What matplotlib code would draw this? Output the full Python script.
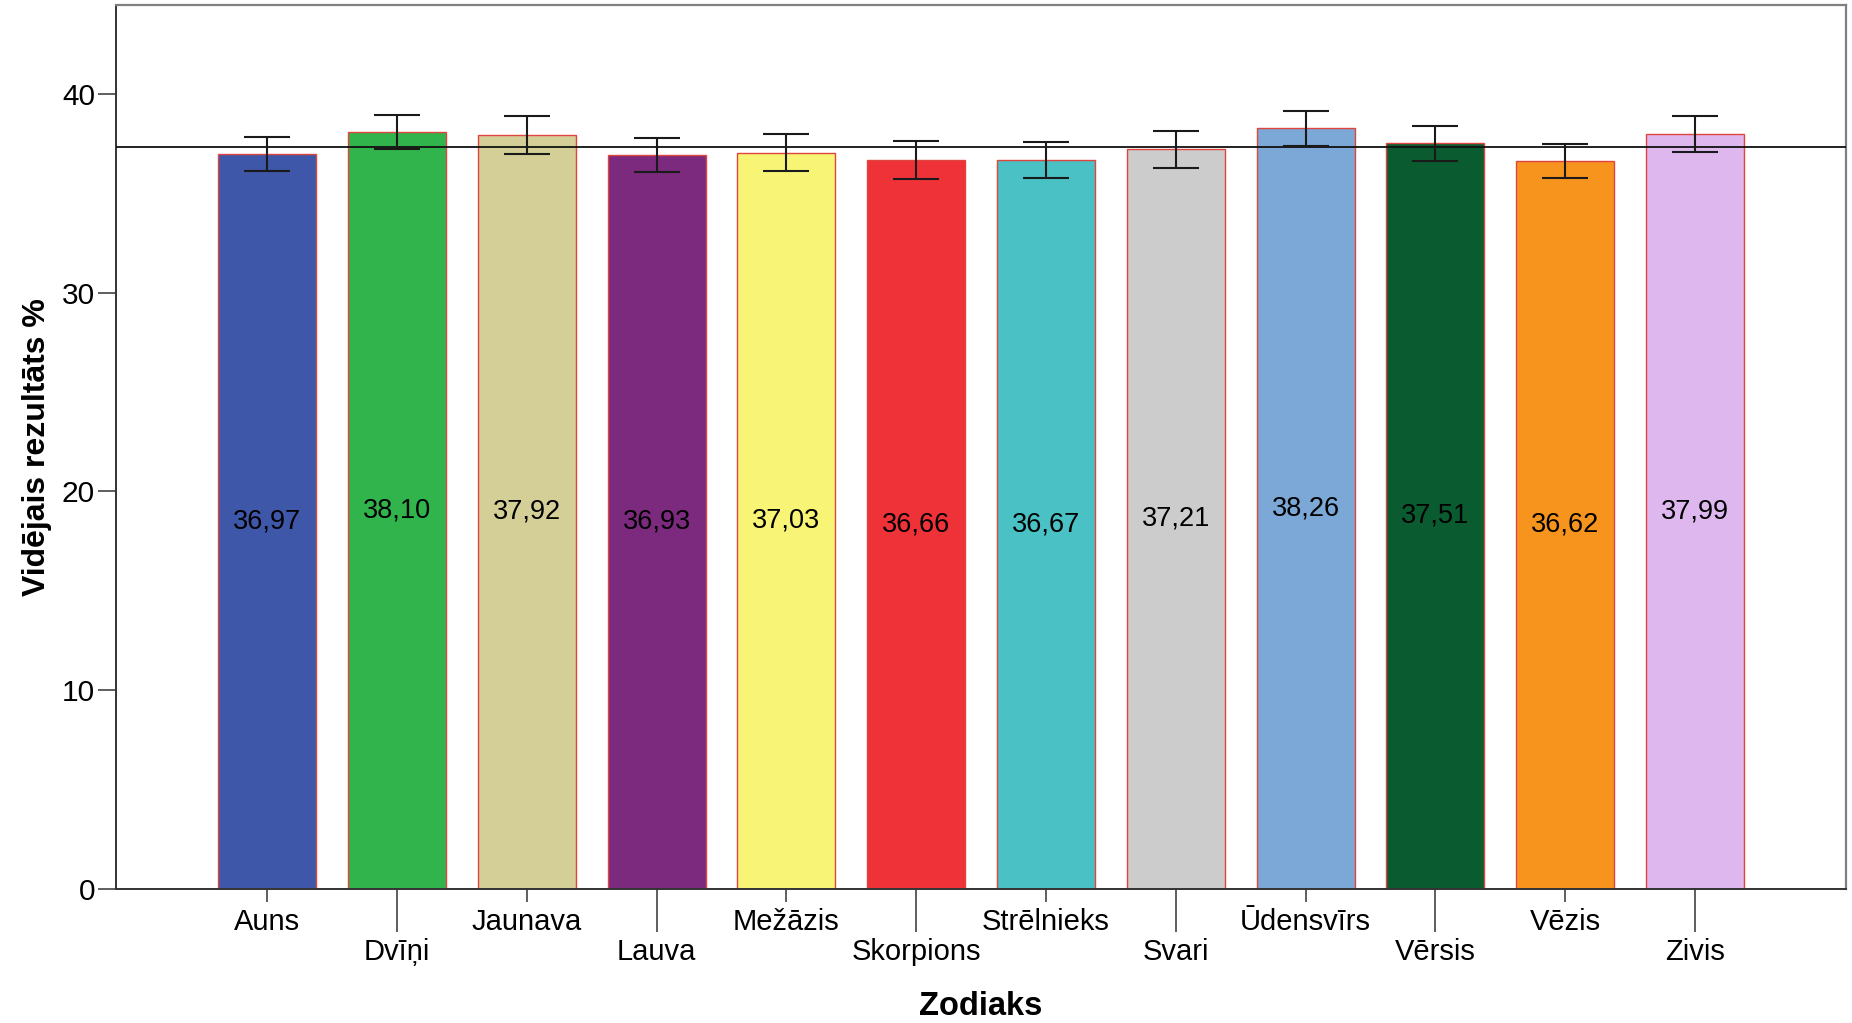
import matplotlib
matplotlib.use('Agg')
import matplotlib.pyplot as plt
import numpy as np

plt.rcParams['font.family'] = ['Liberation Sans', 'DejaVu Sans']

# Mean test score (%) by zodiac sign, with error bar half-widths
signs = ['Auns', 'Dvīņi', 'Jaunava', 'Lauva', 'Mežāzis', 'Skorpions',
         'Strēlnieks', 'Svari', 'Ūdensvīrs', 'Vērsis', 'Vēzis', 'Zivis']
means = [36.97, 38.10, 37.92, 36.93, 37.03, 36.66,
         36.67, 37.21, 38.26, 37.51, 36.62, 37.99]
errors = [0.86, 0.86, 0.94, 0.87, 0.93, 0.95,
          0.93, 0.93, 0.88, 0.87, 0.88, 0.90]
colors = ['#3F57A8', '#31B44B', '#D4CF96', '#7B2A7D', '#F8F576', '#EE3238',
          '#4AC2C5', '#CCCCCC', '#7BA8D6', '#0A5B2F', '#F7941D', '#DDB7EE']
overall_mean = 37.32
y_ticks = [0, 10, 20, 30, 40]

fig = plt.figure(figsize=(18.52, 10.23), dpi=100)
ax = fig.add_axes([0.0625, 0.1313, 0.9343, 0.8638])

x = np.arange(len(signs))
ax.bar(x, means, width=0.755, color=colors, edgecolor='#E0443F', linewidth=1.0,
       zorder=2)
ax.errorbar(x, means, yerr=errors, fmt='none', ecolor='#1a1a1a',
            elinewidth=1.5, capsize=16.5, capthick=1.5, zorder=4)
ax.axhline(overall_mean, color='#111111', linewidth=1.3, zorder=3)

# value labels at mid-height of each bar
for xi, v in zip(x, means):
    ax.text(xi, v / 2, f'{v:.2f}'.replace('.', ','), ha='center', va='center',
            fontsize=19.5, color='black', zorder=5)

ax.set_xlim(-1.166, 12.163)
ax.set_ylim(0, 44.47)

# alternating tick labels: even ones short ticks, odd ones long ticks
ax.set_xticks(x[::2], [signs[i] for i in x[::2]])
ax.set_xticks(x[1::2], [signs[i] for i in x[1::2]], minor=True)
ax.tick_params(axis='x', which='major', length=9.5, width=1.1, color='#333333',
               labelsize=21, pad=4.5)
ax.tick_params(axis='x', which='minor', length=31, width=1.1, color='#333333',
               labelsize=21, pad=4.5)
ax.set_yticks(y_ticks)
ax.tick_params(axis='y', length=13, width=1.1, color='#333333', labelsize=21.5,
               pad=2)

for side in ['left', 'bottom']:
    ax.spines[side].set_color('#333333')
    ax.spines[side].set_linewidth(1.4)
for side in ['top', 'right']:
    ax.spines[side].set_color('#808080')
    ax.spines[side].set_linewidth(1.6)

ax.set_xlabel('Zodiaks', fontsize=23.5, fontweight='bold')
ax.set_ylabel('Vidējais rezultāts %', fontsize=23, fontweight='bold')
ax.xaxis.set_label_coords(0.5, -0.116)
ax.yaxis.set_label_coords(-0.037, 0.5)

fig.savefig('out.png', dpi=100)
